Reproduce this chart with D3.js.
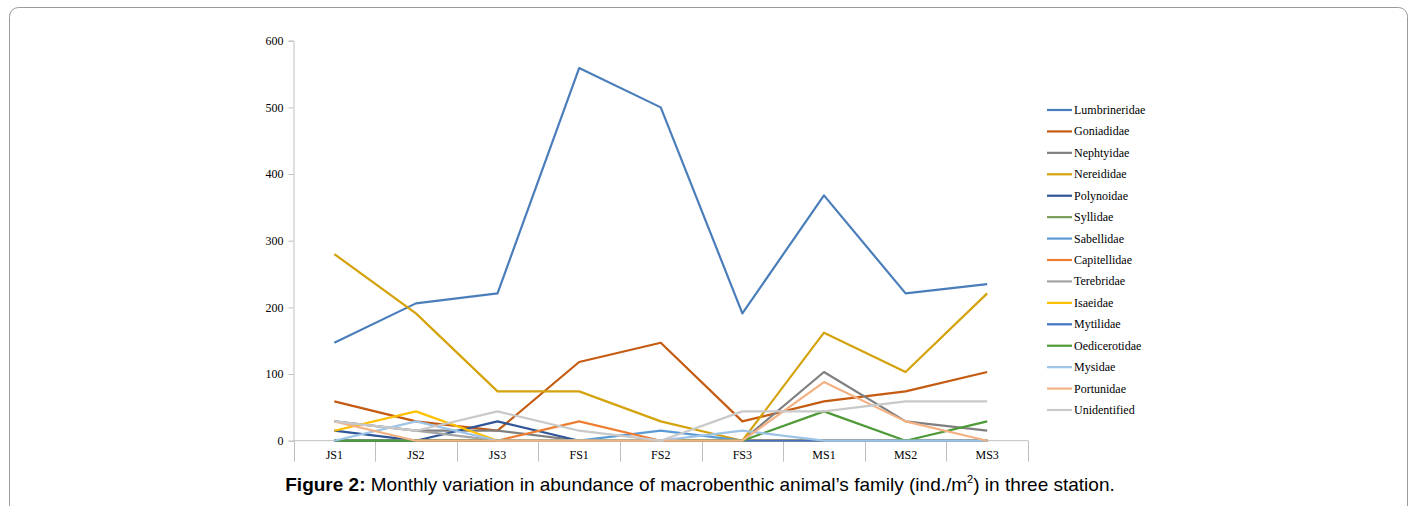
<!DOCTYPE html>
<html>
<head>
<meta charset="utf-8">
<script src="https://cdn.jsdelivr.net/npm/d3@7"></script>
<style>
  body { margin: 0; background: #fff; }
  svg { display: block; }
</style>
</head>
<body>
<div id="chart"></div>
<script>
// estaciones (mes + estacion)
const stations = ["JS1", "JS2", "JS3", "FS1", "FS2", "FS3", "MS1", "MS2", "MS3"];
const yTicks = [0, 100, 200, 300, 400, 500, 600];

// valores (ind./m2)
const lumbrineridae = [147, 206, 221, 559, 500, 191, 368, 221, 235];
const goniadidae    = [59, 29, 15, 118, 147, 29, 59, 74, 103];
const nephtyidae    = [29, 15, 15, 0, 0, 0, 103, 29, 15];
const nereididae    = [280, 191, 74, 74, 29, 0, 162, 103, 221];
const polynoidae    = [15, 0, 29, 0, 0, 0, 0, 0, 0];
const syllidae      = [0, 0, 0, 0, 0, 0, 0, 0, 0];
const sabellidae    = [0, 0, 0, 0, 15, 0, 0, 0, 0];
const capitellidae  = [0, 0, 0, 29, 0, 0, 0, 0, 0];
const terebridae    = [29, 15, 0, 0, 0, 0, 0, 0, 0];
const isaeidae      = [15, 44, 0, 0, 0, 0, 0, 0, 0];
const mytilidae     = [0, 0, 0, 0, 0, 0, 0, 0, 0];
const oedicerotidae = [0, 0, 0, 0, 0, 0, 44, 0, 29];
const mysidae       = [0, 29, 0, 0, 0, 15, 0, 0, 0];
const portunidae    = [29, 0, 0, 0, 0, 0, 88, 29, 0];
const unidentified  = [29, 15, 44, 15, 0, 44, 44, 59, 59];

const families = ["Lumbrineridae", "Goniadidae", "Nephtyidae", "Nereididae", "Polynoidae",
  "Syllidae", "Sabellidae", "Capitellidae", "Terebridae", "Isaeidae", "Mytilidae",
  "Oedicerotidae", "Mysidae", "Portunidae", "Unidentified"];
const familyValues = [lumbrineridae, goniadidae, nephtyidae, nereididae, polynoidae,
  syllidae, sabellidae, capitellidae, terebridae, isaeidae, mytilidae,
  oedicerotidae, mysidae, portunidae, unidentified];
const colors = ["#4a7ebb", "#c55a11", "#7f7f7f", "#d4a20a", "#2f5597",
  "#7a9e57", "#5b9bd5", "#ed7d31", "#a5a5a5", "#ffc000", "#4472c4",
  "#4e9a36", "#9dc3e6", "#f4b183", "#c9c9c9"];

const width = 1416, height = 506;
const svg = d3.select("#chart").append("svg")
  .attr("width", width)
  .attr("height", height);

// marco redondeado de la figura
svg.append("rect")
  .attr("x", 9.5).attr("y", 7.5)
  .attr("width", 1398).attr("height", 540)
  .attr("rx", 9)
  .attr("fill", "none")
  .attr("stroke", "#9a9a9a");

const x = d3.scaleBand().domain(stations).range([293.5, 1028]).padding(0);
const y = d3.scaleLinear().domain([0, 600]).range([440.7, 40.7]);

const axisColor = "#bfbfbf";
const serif = "'Liberation Serif', 'Times New Roman', serif";

// eje Y
const yAxis = svg.append("g")
  .attr("transform", "translate(293.5,0)")
  .call(d3.axisLeft(y).tickValues(yTicks).tickSize(5).tickPadding(5));
yAxis.select(".domain").attr("stroke", axisColor);
yAxis.selectAll(".tick line").attr("stroke", axisColor);
yAxis.selectAll(".tick text")
  .attr("font-family", serif).attr("font-size", 12).attr("fill", "#000");

// eje X (lineas divisorias entre categorias)
const xg = svg.append("g");
xg.append("line")
  .attr("x1", x.range()[0]).attr("x2", x.range()[1])
  .attr("y1", y(0)).attr("y2", y(0))
  .attr("stroke", axisColor);
const bounds = stations.map(s => x(s)).concat([x.range()[1]]);
xg.selectAll("line.sep")
  .data(bounds)
  .enter()
  .append("line")
  .attr("class", "sep")
  .attr("x1", d => Math.round(d) + 0.5).attr("x2", d => Math.round(d) + 0.5)
  .attr("y1", y(0)).attr("y2", y(0) + 21)
  .attr("stroke", axisColor);
xg.selectAll("text")
  .data(stations)
  .enter()
  .append("text")
  .attr("x", d => x(d) + x.bandwidth() / 2)
  .attr("y", y(0) + 18)
  .attr("text-anchor", "middle")
  .attr("font-family", serif)
  .attr("font-size", 12)
  .text(d => d);

// lineas de cada familia (en orden, la ultima queda encima)
const line = d3.line()
  .x((d, i) => x(stations[i]) + x.bandwidth() / 2)
  .y(d => y(d));

svg.append("g").selectAll("path")
  .data(familyValues)
  .enter()
  .append("path")
  .attr("d", d => line(d))
  .attr("fill", "none")
  .attr("stroke", (d, i) => colors[i])
  .attr("stroke-width", 2.2)
  .attr("stroke-linejoin", "round");

// leyenda
const legend = svg.append("g").selectAll("g")
  .data(families)
  .enter()
  .append("g")
  .attr("transform", (d, i) => `translate(1047,${110 + i * 21.43})`);
legend.append("line")
  .attr("x1", 0).attr("x2", 25)
  .attr("stroke", (d, i) => colors[i])
  .attr("stroke-width", 2.2);
legend.append("text")
  .attr("x", 27).attr("y", 4)
  .attr("font-family", serif)
  .attr("font-size", 12)
  .text(d => d);

// pie de figura
const caption = svg.append("text")
  .attr("x", 700).attr("y", 491)
  .attr("text-anchor", "middle")
  .attr("font-family", "'Liberation Sans', Arial, sans-serif")
  .attr("font-size", 19);
caption.append("tspan").attr("font-weight", "bold").text("Figure 2:");
caption.append("tspan").text(" Monthly variation in abundance of macrobenthic animal\u2019s family (ind./m");
caption.append("tspan").attr("font-size", 11).attr("dy", -8).text("2");
caption.append("tspan").attr("dy", 8).text(") in three station.");
</script>
</body>
</html>
